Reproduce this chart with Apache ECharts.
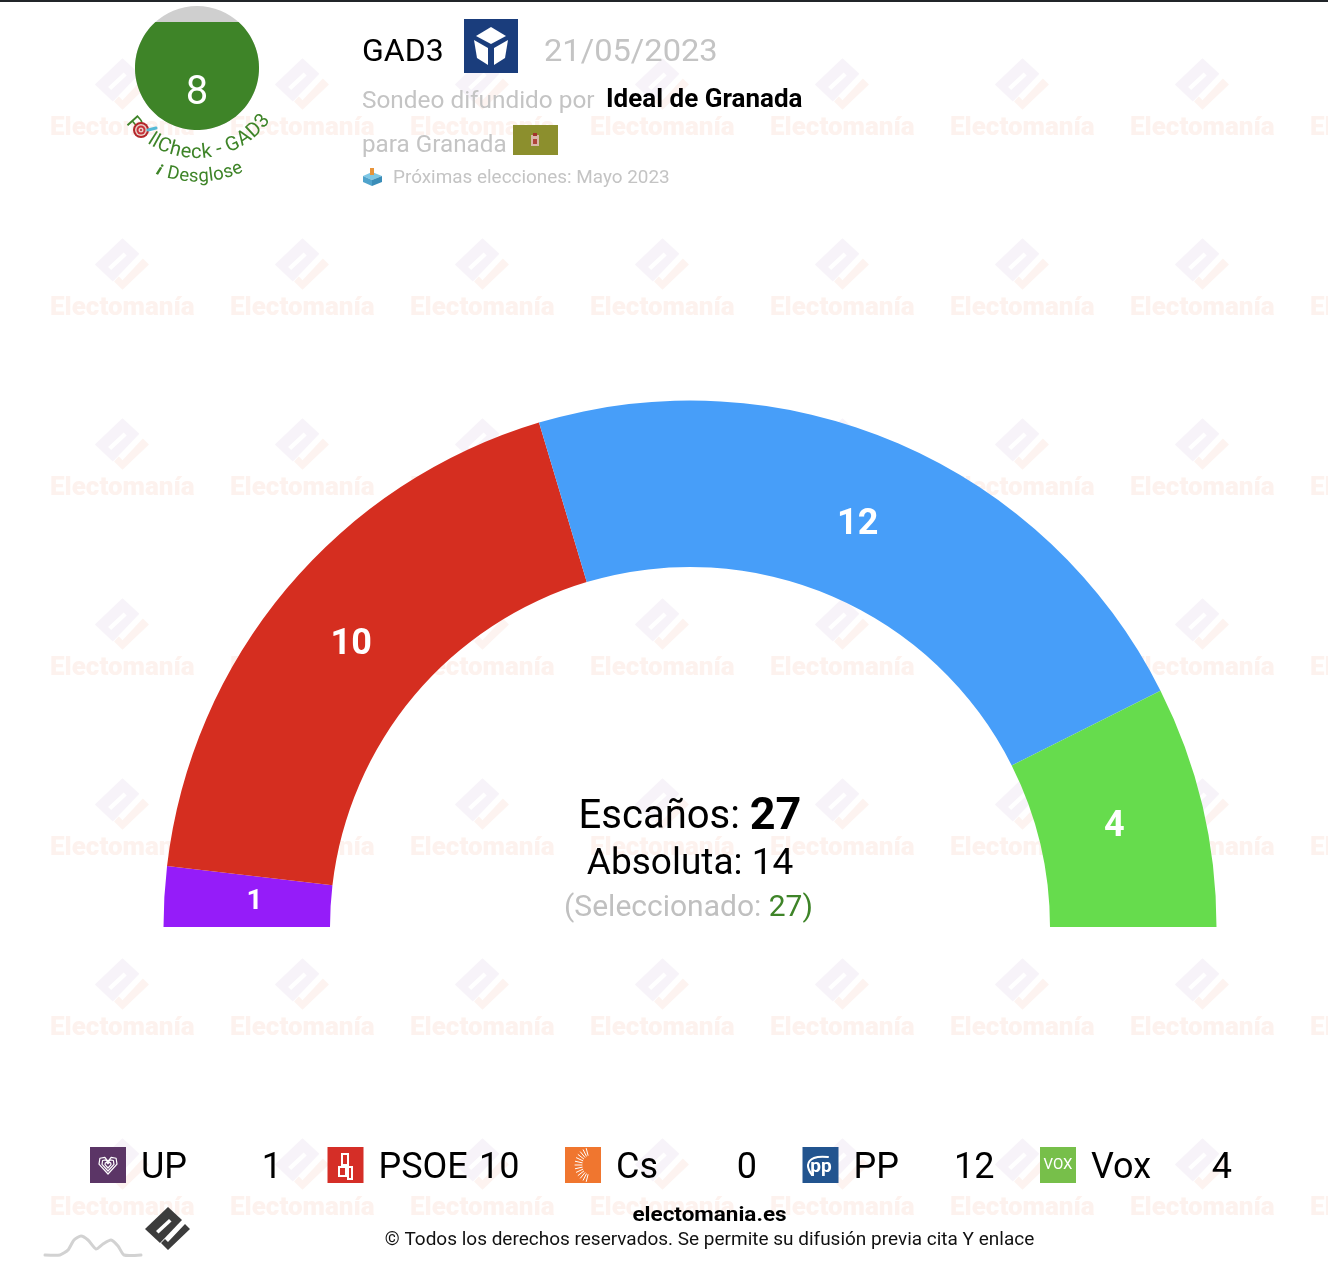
<!DOCTYPE html>
<html><head><meta charset="utf-8">
<style>html,body{margin:0;padding:0;background:#fff}#c{width:1328px;height:1274px}</style>
<script src="https://cdn.jsdelivr.net/npm/echarts@6/dist/echarts.min.js"></script>
</head><body><div id="c"></div>
<script>
var parties = ['UP','PSOE','Cs','PP','Vox'];
var seats = [1,10,0,12,4];
var arcColors = ['#951cf9','#d52e20','#f0762f','#479ef9','#66dc4d'];
var iconColors = ['#5b3566','#d52e27','#f0762f','#22548f','#77bf4a'];
var pollster = 'GAD3';
var pollDate = '21/05/2023';
var media = 'Ideal de Granada';
var place = 'para Granada';
var nextElection = 'Próximas elecciones: Mayo 2023';
var totalSeats = 27, majority = 14, selected = 27, pollCheckScore = 8;

var FONT = 'Roboto, sans-serif';
var chart = echarts.init(document.getElementById('c'), null, {renderer:'canvas'});
var g = [];
function T(x,y,text,size,color,o){o=o||{};
  g.push({type:'text',x:x,y:y+3,z:o.z==null?50:o.z,rotation:o.rot||0,scaleX:o.sx||1,silent:true,
    style:{text:text,fill:color,font:(o.style?o.style+' ':'')+(o.weight||400)+' '+size+'px '+FONT,
    align:o.align||'left',verticalAlign:o.va||'middle',rich:o.rich}});
}
function R(x,y,w,h,fill,z){g.push({type:'rect',z:z==null?40:z,silent:true,shape:{x:x,y:y,width:w,height:h},style:{fill:fill}});}
function P(pts,fill,z){g.push({type:'polygon',z:z==null?45:z,silent:true,shape:{points:pts},style:{fill:fill}});}
function C(x,y,r,fill,z){g.push({type:'circle',z:z==null?45:z,silent:true,shape:{cx:x,cy:y,r:r},style:{fill:fill}});}
function L(pts,stroke,lw,z,smooth){g.push({type:'polyline',z:z==null?46:z,silent:true,shape:{points:pts,smooth:smooth||0},style:{stroke:stroke,lineWidth:lw,fill:null,lineCap:'round',lineJoin:'round'}});}

var MAIN=[[0,-24],[14,-11],[-8,12],[-23,-2]];
var SLOT=[[-12,0],[1,-12],[3.5,-9.5],[-9.5,2.5]];
var HOOK=[[-7,12],[-3,8],[0,11],[17,-7],[22,-2],[0,19]];
function mark(cx,cy,s,fill,hookFill,slot,z){
  var m=function(a){return a.map(function(p){return [cx+p[0]*s,cy+p[1]*s];});};
  P(m(MAIN),fill,z);P(m(SLOT),slot,z+0.5);P(m(HOOK),hookFill,z);
}
for(var j=0;j<7;j++)for(var k=0;k<8;k++){
  mark(122.5+180*k,87+180*j,1.2,'#f7f3f9','#fdf3f0','#ffffff',-10);
  g.push({type:'text',x:50+180*k,y:128+180*j,z:-10,silent:true,style:{text:'Electomanía',fill:'#fdf2ee',font:'900 26px '+FONT,align:'left',verticalAlign:'middle'}});
}
R(0,0,1328,2,'#212529',60);

// PollCheck badge
var bx=197,by=68,br=62,cut=22;
C(bx,by,br,'#cfcfcf',40);
var segPts=[];
var a0=Math.asin((by-cut)/br);
for(var i=0;i<=120;i++){var a=-a0+(Math.PI+2*a0)*i/120;segPts.push([bx+br*Math.cos(a),by+br*Math.sin(a)]);}
P(segPts,'#3e8428',41);
T(197,91,String(pollCheckScore),40,'#ffffff',{align:'center'});
var mc=document.createElement('canvas').getContext('2d');
function arcText(str,r,size,centerAngle,style,gapAt,gap){
  var font=(style?style+' ':'')+'400 '+size+'px '+FONT;mc.font=font;
  var w=str.split('').map(function(c){return mc.measureText(c).width;});
  var tot=w.reduce(function(a,b){return a+b;},0)+(gap||0);
  var pos=-tot/2;
  str.split('').forEach(function(c,i){
    var th=(pos+w[i]/2)/r+centerAngle;
    g.push({type:'text',x:bx+r*Math.sin(th),y:by+r*Math.cos(th),z:50,rotation:th,silent:true,style:{text:c,fill:'#3e8428',font:font,align:'center',verticalAlign:'middle'}});
    pos+=w[i]; if(i===gapAt)pos+=gap;
  });
}
arcText('PllCheck - GAD3',85,20,0.02,'',0,15);
arcText('Desglose',109,18.5,0.075,'');
T(159,168,'i',15,'#3e8428',{align:'center',weight:900,style:'italic',rot:-0.38});
C(141,130,8,'#b3262a',51);C(141,130,6,'#e8d0c8',51);C(141,130,4.5,'#c8313a',51);C(141,130,2.5,'#e8d0c8',51);C(141,130,1,'#b3262a',51);
L([[148,130],[156,128]],'#55b9d6',3,52);

// Header
T(362,50,pollster,32,'#000000');
R(464,19,54,54,'#1a3d7c');
P([[491,27],[506,36],[491,44],[476,36]],'#ffffff',46);
P([[474,40],[488,48],[488,65],[477,58]],'#ffffff',46);
P([[508,40],[494,48],[494,65],[505,58]],'#ffffff',46);
T(544,50,pollDate,32,'#c4c4c4',{sx:1.02});
T(362,99,'Sondeo difundido por',24,'#c4c4c4',{sx:1.015});
T(606,98,media,25,'#000000',{weight:700,sx:1.04});
T(362,143,place,24,'#c4c4c4',{sx:1.01});
R(513,125,45,30,'#8c8f2d');
R(531,135,8,11,'#d9b7a8',41);R(533,133,4,3,'#a3332c',41);R(533,139,4,5,'#b0443a',42);
P([[372,172],[382,176],[372,180],[363,176]],'#7ec8e6');
P([[363,176],[372,180],[372,186],[363,182]],'#4fa3cc');
P([[382,176],[372,180],[372,186],[382,182]],'#3a8db8');
R(370,168,4,7,'#e8943a',47);
T(393,175,nextElection,18,'#c4c4c4',{sx:1.05});

// Centre text
g.push({type:'text',x:690,y:818,z:50,silent:true,style:{text:'{a|Escaños: }{b|'+totalSeats+'}',align:'center',verticalAlign:'middle',
  rich:{a:{font:'400 40px '+FONT,fill:'#000'},b:{font:'700 45px '+FONT,fill:'#000'}}}});
T(690,862,'Absoluta: '+majority,37,'#000000',{align:'center'});
g.push({type:'text',x:688.5,y:908,z:50,silent:true,style:{text:'{g|(Seleccionado: }{h|'+selected+')}',align:'center',verticalAlign:'middle',
  rich:{g:{font:'400 30px '+FONT,fill:'#c0c0c0'},h:{font:'400 30px '+FONT,fill:'#3e8428'}}}});

// Legend
parties.forEach(function(n,i){
  var x=90+237.5*i;
  R(x,1147,36,36,iconColors[i]);
  T(x+51,1166,n,36,'#000000');
  T(x+192,1166,String(seats[i]),36,'#000000',{align:'right'});
});
var hx=108,hy=1165;
[9,6,3].forEach(function(s){
  L([[hx,hy+s],[hx-s,hy-s*0.1],[hx-s*0.9,hy-s*0.75],[hx-s*0.35,hy-s*0.85],[hx,hy-s*0.4],[hx+s*0.35,hy-s*0.85],[hx+s*0.9,hy-s*0.75],[hx+s,hy-s*0.1],[hx,hy+s]],'#ffffff',1.2,47);
});
R(341,1153,8,13,'#ffffff',41);R(343,1155,4,9,'#d52e27',42);R(338,1166,9,11,'#ffffff',41);R(340,1168,5,7,'#d52e27',42);R(347,1166,6,14,'#ffffff',41);R(349,1168,2,10,'#d52e27',42);
for(var q=-6;q<=6;q++){var an=Math.PI+q*0.22;L([[590+8*Math.cos(an),1165+10*Math.sin(an)],[590+15*Math.cos(an),1165+17*Math.sin(an)]],'#fff',1,47);}
T(821,1164,'pp',19,'#ffffff',{align:'center',weight:700});
L([[812,1175],[808,1165],[814,1158],[828,1157]],'#ffffff',2,47,0.4);
T(1058,1162,'VOX',15,'#ffffff',{align:'center'});

// Footer
T(709.5,1213,'electomania.es',21,'#000000',{align:'center',weight:700,sx:1.07});
T(709.5,1237,'© Todos los derechos reservados. Se permite su difusión previa cita Y enlace',18,'#111111',{align:'center',sx:1.055});
mark(168,1231,1,'#3c3c3c','#3c3c3c','#ffffff',45);
L([[45,1255],[60,1255],[68,1250],[74,1240],[81,1236],[88,1240],[96,1249],[103,1244],[111,1240],[118,1246],[124,1255],[141,1255]],'#d2d2d2',3,45,0.2);

var labelOffsets = {UP:[10,1],PSOE:[3,5],PP:[-9,8],Vox:[-10,3]};
chart.setOption({
  animation:false,
  backgroundColor:'#ffffff',
  graphic:{elements:g},
  series:[{
    type:'pie',
    center:[690,927],
    radius:[360,526.5],
    startAngle:180,endAngle:0,
    clockwise:true,
    minAngle:0,
    avoidLabelOverlap:false,
    silent:true,
    itemStyle:{borderWidth:0},
    label:{show:true,position:'inside',color:'#fff',fontFamily:FONT,fontWeight:700,fontSize:36,
      formatter:function(p){return p.value?String(p.value):'';}},
    labelLine:{show:false},
    data:parties.map(function(n,i){
      var d={name:n,value:seats[i],itemStyle:{color:arcColors[i]},label:{offset:labelOffsets[n]||[0,0]}};
      if(n==='UP')d.label.fontSize=28;
      return d;
    })
  }]
});
</script></body></html>
